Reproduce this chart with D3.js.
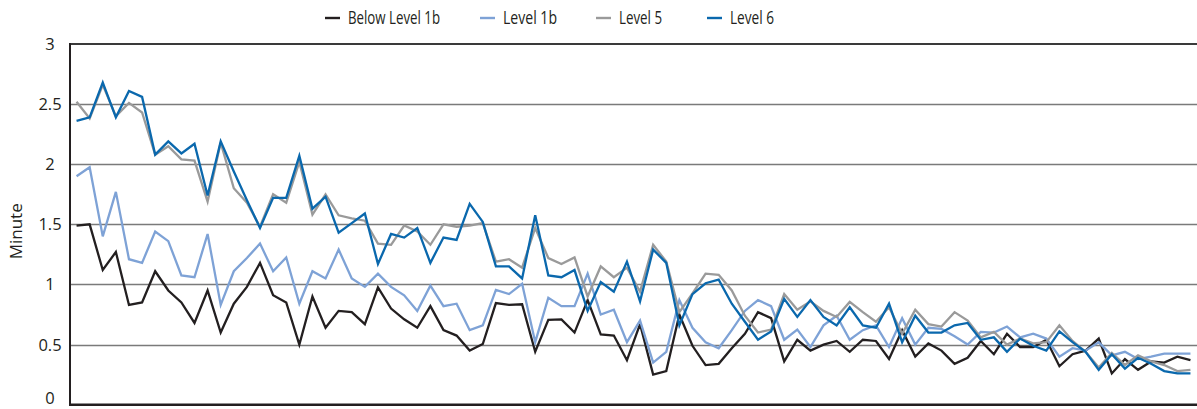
<!DOCTYPE html>
<html>
<head>
<meta charset="utf-8">
<script src="https://cdn.jsdelivr.net/npm/d3@7"></script>
<style>
  html, body { margin: 0; padding: 0; background: #fff; }
  svg { display: block; }
  text { font-family: "Open Sans", "DejaVu Sans", sans-serif; fill: #231f20; }
</style>
</head>
<body>
<svg id="chart" width="1197" height="409"></svg>
<script>
const seriesNames = ["Below Level 1b", "Level 1b", "Level 5", "Level 6"];
const seriesColors = ["#231f20", "#7ea2d6", "#9a9a9a", "#0a68ad"];
const yTicks = [0, 0.5, 1, 1.5, 2, 2.5, 3];
const yTickLabels = ["0", "0.5", "1", "1.5", "2", "2.5", "3"];
const yTitle = "Minute";

const belowLevel1b = [1.49,1.50,1.12,1.27,0.83,0.85,1.11,0.95,0.85,0.68,0.95,0.60,0.84,0.98,1.18,0.91,0.85,0.50,0.90,0.64,0.78,0.77,0.67,0.975,0.80,0.71,0.64,0.82,0.62,0.575,0.45,0.505,0.845,0.83,0.835,0.44,0.705,0.71,0.60,0.87,0.585,0.575,0.37,0.67,0.25,0.28,0.75,0.49,0.33,0.34,0.47,0.59,0.77,0.72,0.36,0.54,0.45,0.50,0.53,0.44,0.54,0.53,0.38,0.62,0.40,0.51,0.45,0.34,0.39,0.53,0.42,0.59,0.48,0.48,0.54,0.32,0.42,0.45,0.55,0.26,0.38,0.29,0.36,0.35,0.40,0.37];
const level1b = [1.90,1.975,1.40,1.77,1.21,1.18,1.44,1.36,1.075,1.06,1.42,0.83,1.11,1.22,1.34,1.11,1.225,0.84,1.11,1.05,1.29,1.05,0.98,1.09,0.98,0.91,0.78,0.99,0.82,0.84,0.62,0.66,0.955,0.92,1.005,0.52,0.89,0.82,0.82,1.09,0.75,0.79,0.52,0.70,0.35,0.44,0.87,0.64,0.52,0.47,0.62,0.78,0.87,0.82,0.54,0.625,0.48,0.66,0.74,0.54,0.62,0.66,0.48,0.72,0.50,0.64,0.63,0.57,0.50,0.605,0.60,0.65,0.56,0.59,0.55,0.40,0.47,0.45,0.52,0.41,0.44,0.38,0.40,0.425,0.425,0.425];
const level5 = [2.52,2.38,2.66,2.40,2.51,2.43,2.08,2.15,2.04,2.03,1.69,2.18,1.80,1.68,1.48,1.75,1.68,2.02,1.58,1.75,1.575,1.55,1.53,1.34,1.33,1.49,1.44,1.33,1.50,1.48,1.49,1.51,1.19,1.21,1.14,1.47,1.22,1.17,1.225,0.90,1.15,1.06,1.14,0.94,1.33,1.19,0.77,0.925,1.09,1.08,0.95,0.74,0.60,0.625,0.92,0.79,0.86,0.78,0.73,0.855,0.77,0.69,0.81,0.59,0.79,0.67,0.65,0.77,0.70,0.56,0.605,0.50,0.55,0.51,0.52,0.66,0.53,0.44,0.31,0.43,0.33,0.41,0.36,0.33,0.28,0.29];
const level6 = [2.36,2.39,2.68,2.39,2.61,2.56,2.08,2.19,2.09,2.17,1.74,2.19,1.94,1.70,1.47,1.72,1.72,2.07,1.63,1.73,1.43,1.51,1.59,1.17,1.42,1.39,1.47,1.18,1.39,1.37,1.67,1.52,1.15,1.15,1.05,1.575,1.075,1.06,1.12,0.78,1.02,0.94,1.19,0.86,1.29,1.18,0.66,0.92,1.01,1.04,0.84,0.69,0.54,0.61,0.88,0.73,0.87,0.73,0.66,0.81,0.66,0.64,0.84,0.52,0.74,0.60,0.60,0.66,0.68,0.54,0.56,0.44,0.55,0.49,0.45,0.61,0.52,0.44,0.29,0.42,0.30,0.39,0.34,0.28,0.26,0.26];

const seriesValues = [belowLevel1b, level1b, level5, level6];
const categories = d3.range(belowLevel1b.length);

const svg = d3.select("#chart");
const margin = { left: 70, right: 0, top: 44, bottom: 4 };
const W = 1197, H = 409;

const x = d3.scalePoint().domain(categories).range([margin.left, W - margin.right]).padding(0.5);
const y = d3.scaleLinear().domain([0, 3]).range([H - margin.bottom - 0.3, margin.top]);

// gridlines
const grid = svg.append("g");
grid.selectAll("line").data(yTicks.filter(t => t > 0 && t < 3)).join("line")
  .attr("x1", margin.left).attr("x2", W)
  .attr("y1", d => Math.round(y(d)) + 0.5).attr("y2", d => Math.round(y(d)) + 0.5)
  .attr("stroke", "#7a7a7a").attr("stroke-width", 1.3);
// top line
grid.append("line").attr("x1", margin.left).attr("x2", W)
  .attr("y1", y(3)).attr("y2", y(3)).attr("stroke", "#3a3a3a").attr("stroke-width", 1.8);

// y axis labels
const yAxis = d3.axisLeft(y).tickValues(yTicks).tickFormat((d, i) => yTickLabels[i]).tickSize(0);
const yg = svg.append("g").attr("transform", `translate(${margin.left},0)`).call(yAxis);
yg.select(".domain").remove();
yg.selectAll("text").attr("x", -20).attr("text-anchor", "middle")
  .style("font-size", "16.5px").style("font-family", "'Open Sans', sans-serif").attr("fill", "#231f20")
  .attr("dy", d => d === 0 ? "-0.08em" : "0.33em");

// y title
svg.append("text").attr("transform", `translate(22,${(y(0) + y(3)) / 2 + 7}) rotate(-90)`)
  .attr("text-anchor", "middle").style("font-size", "17px").text(yTitle);

// lines
const line = d3.line().x((d, i) => x(i)).y(d => y(d));
svg.append("g").selectAll("path").data(seriesValues).join("path")
  .attr("d", d => line(d)).attr("fill", "none")
  .attr("stroke", (d, i) => seriesColors[i]).attr("stroke-width", 2.3)
  .attr("stroke-linejoin", "miter").attr("stroke-miterlimit", 4);

// axes lines
svg.append("line").attr("x1", margin.left).attr("x2", margin.left)
  .attr("y1", y(3) - 1).attr("y2", y(0) + 1).attr("stroke", "#231f20").attr("stroke-width", 2);
svg.append("line").attr("x1", margin.left - 1).attr("x2", W)
  .attr("y1", y(0)).attr("y2", y(0)).attr("stroke", "#231f20").attr("stroke-width", 2.4);

// legend
const legendX = [325, 480, 596, 707];
const legendW = [92, 54, 43, 44];
const lg = svg.append("g");
seriesNames.forEach((name, i) => {
  lg.append("line").attr("x1", legendX[i]).attr("x2", legendX[i] + 15)
    .attr("y1", 18).attr("y2", 18).attr("stroke", seriesColors[i]).attr("stroke-width", 2.4);
  lg.append("text").attr("x", legendX[i] + 23).attr("y", 24)
    .style("font-size", "18.5px")
    .attr("textLength", legendW[i]).attr("lengthAdjust", "spacingAndGlyphs")
    .text(name);
});
</script>
</body>
</html>
